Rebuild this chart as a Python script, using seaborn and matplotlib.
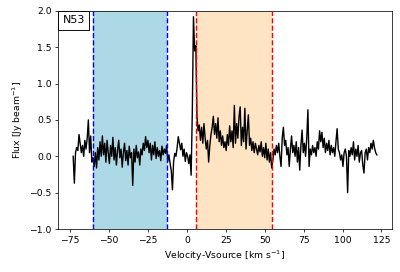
import numpy as np
import matplotlib
matplotlib.use("Agg")
import matplotlib.pyplot as plt
import seaborn as sns
from matplotlib.offsetbox import AnchoredText

v_start, v_end = -73.0, 122.0
flux = [
    # pre-window
    0.00, -0.37, 0.05, 0.12, 0.08, 0.30, 0.18, 0.05, 0.15, 0.00,
    0.22, 0.10, 0.25, 0.50, 0.05, 0.28, -0.08, -0.02,
    # blue window
    -0.14, 0.05, -0.16, 0.12, -0.05, 0.20, 0.00, 0.28, 0.02, 0.18,
    -0.08, 0.22, 0.05, -0.10, 0.15, 0.00, 0.26, -0.05, 0.12, -0.12,
    0.08, 0.22, -0.02, 0.10, -0.15, 0.05, 0.18, -0.06, 0.08, -0.12,
    0.14, -0.02, 0.05, -0.40, 0.10, -0.08, 0.15, -0.02, 0.06, -0.12,
    0.10, 0.02, 0.18, 0.08, 0.27, 0.12, 0.22, 0.05, 0.18, -0.05,
    0.15, 0.02, 0.20, -0.03, 0.12, 0.00, 0.08, -0.06, 0.14, 0.02,
    0.10, 0.04,
    # gap + peak
    0.15, -0.07, 0.02, -0.10, -0.20, -0.46, -0.07, 0.04, 0.00, 0.12,
    0.27, 0.18, 0.09, 0.18, 0.00, 0.10, -0.07, 0.05, 0.00, -0.10,
    0.02, -0.26, 0.60, 1.92, 1.45, 1.52,
    # orange window
    0.55, 0.35, 0.43, 0.22, 0.40, 0.18, 0.45, 0.25, 0.10, 0.22,
    -0.08, 0.15, 0.30, 0.40, 0.55, 0.30, 0.45, 0.25, 0.53, 0.20,
    0.35, 0.15, 0.28, 0.12, 0.20, 0.08, 0.30, 0.15, 0.42, 0.20,
    0.35, 0.12, 0.70, 0.18, 0.45, 0.25, 0.55, 0.68, 0.15, 0.40,
    0.20, 0.66, 0.10, 0.35, 0.57, 0.15, 0.25, 0.08, 0.20, 0.05,
    0.18, 0.10, 0.02, 0.15, 0.06, 0.20, 0.00, 0.12, -0.02, 0.18,
    -0.05, 0.10, -0.08, 0.05, -0.16,
    # post-window
    -0.05, 0.10, 0.02, 0.15, 0.05, 0.18, 0.00, -0.14, 0.25, 0.40,
    0.15, 0.22, 0.02, 0.12, -0.14, 0.10, 0.28, 0.05, 0.15, 0.00,
    0.20, -0.08, 0.12, -0.19, 0.15, 0.36, 0.05, 0.18, 0.00, 0.25,
    0.64, -0.14, 0.10, 0.02, 0.15, 0.05, 0.12, 0.00, 0.20, 0.10,
    0.35, 0.20, 0.33, 0.12, 0.25, 0.05, 0.18, 0.08, 0.22, 0.02,
    0.15, 0.05, 0.12, 0.00, 0.20, 0.38, 0.10, 0.05, -0.05, 0.02,
    -0.14, 0.05, 0.10, 0.00, -0.50, 0.08, 0.00, 0.12, 0.02, 0.20,
    -0.05, 0.10, 0.00, 0.15, -0.08, 0.05, 0.08, -0.12, -0.23, 0.05,
    0.10, -0.05, 0.12, 0.05, 0.18, 0.10, 0.22, 0.12, 0.05, 0.02,
]
velocity = np.linspace(v_start, v_end, len(flux))

blue_window = [-60.0, -13.0]
orange_window = [6.0, 55.0]
label = "N53"

fig = plt.figure(figsize=(6, 4.08), dpi=200 / 3)
ax = fig.add_axes([0.145, 0.158, 0.835, 0.802])

ax.axvspan(blue_window[0], blue_window[1], color="lightblue", zorder=0, lw=0)
ax.axvspan(orange_window[0], orange_window[1], color="bisque", zorder=0, lw=0)
for xv in blue_window:
    ax.axvline(xv, color="blue", ls="--", lw=1.5, zorder=3)
for xv in orange_window:
    ax.axvline(xv, color="red", ls="--", lw=1.5, zorder=3)

sns.lineplot(x=velocity, y=flux, color="black", lw=1.5, ax=ax, zorder=2)

ax.set_ylim(-1, 2)
ax.set_xticks([-75, -50, -25, 0, 25, 50, 75, 100, 125])
ax.set_yticks([-1.0, -0.5, 0.0, 0.5, 1.0, 1.5, 2.0])
ax.set_xlabel("Velocity-Vsource [km s$^{-1}$]")
ax.set_ylabel("Flux [Jy beam$^{-1}$]")

at = AnchoredText(label, loc="upper left", borderpad=0, frameon=True,
                  prop=dict(size=12))
ax.add_artist(at)

fig.savefig("out.png", dpi=200 / 3)
